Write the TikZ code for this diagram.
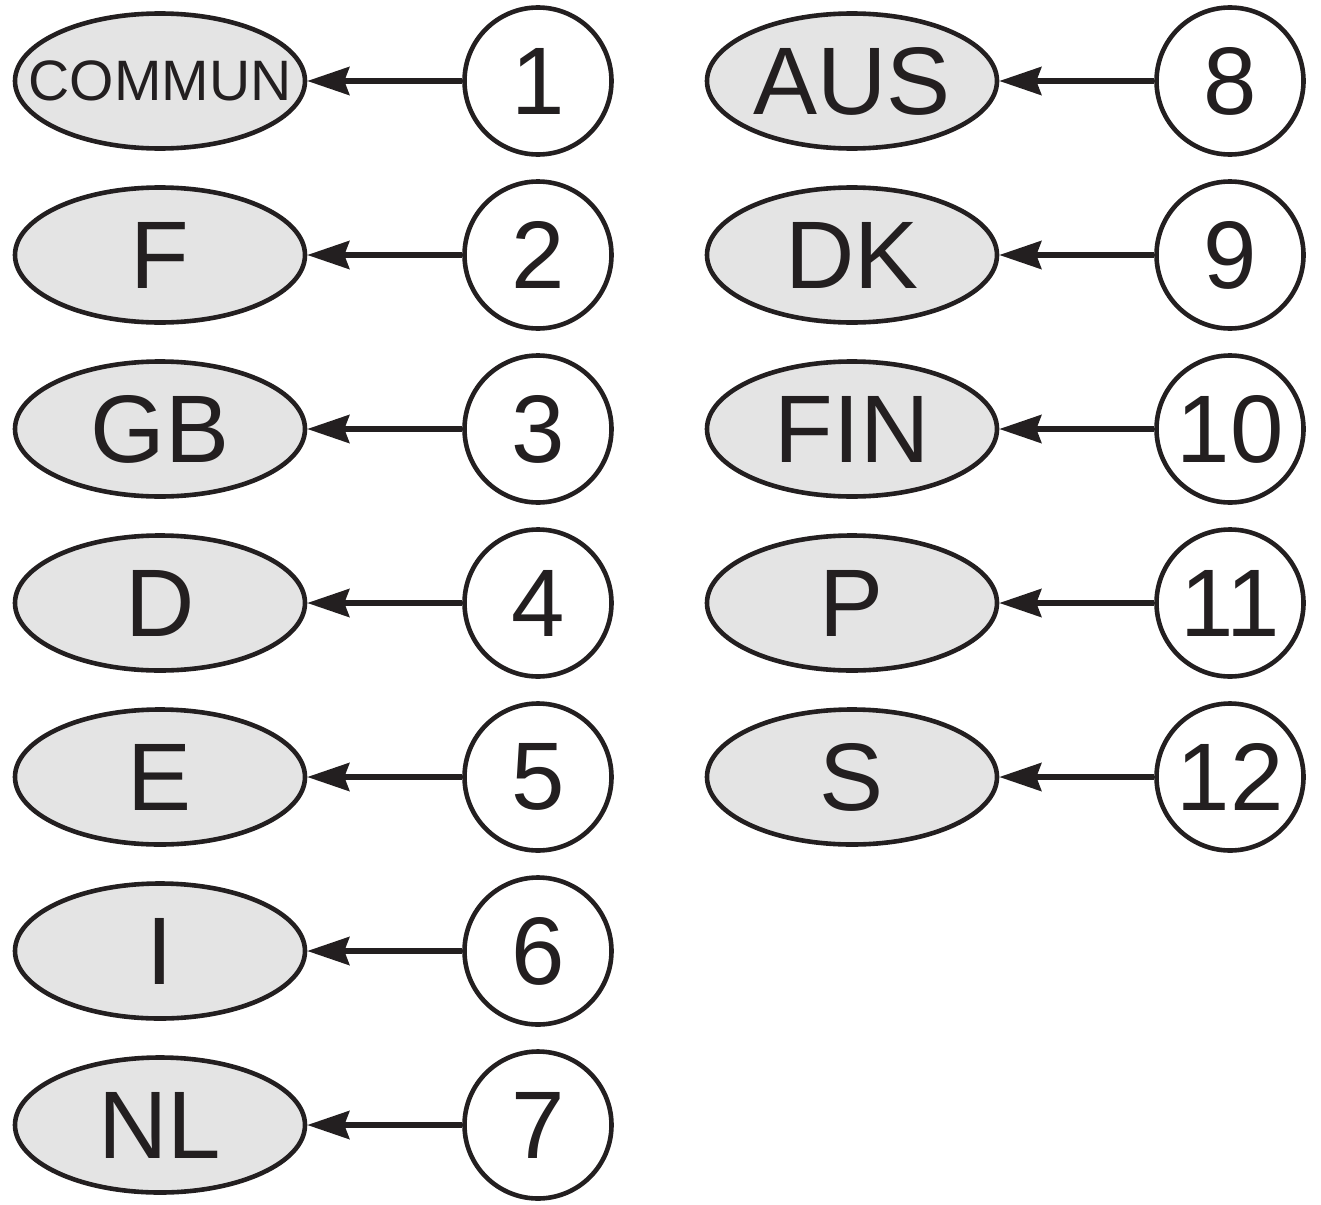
\documentclass[tikz,border=0pt]{standalone}
\usepackage{fontspec}
\setmainfont{Liberation Sans}
\usetikzlibrary{arrows.meta, shapes.geometric}
\definecolor{ink}{HTML}{231F20}
\definecolor{shade}{HTML}{E4E4E4}
\tikzset{
  country/.style={draw=ink, fill=shade, ellipse, line width=2.3pt, inner sep=0pt,
    minimum width=145pt, minimum height=67.5pt, font=\fontsize{48}{48}\selectfont, text=ink},
  codenum/.style={draw=ink, fill=white, circle, line width=2.3pt, inner sep=0pt,
    minimum size=73.5pt, font=\fontsize{48}{48}\selectfont, text=ink},
  pointer/.style={draw=ink, line width=2.7pt, -{Stealth[length=21pt, width=14pt, inset=2.5pt]}}
}
\begin{document}
\begin{tikzpicture}[x=0.5pt, y=-0.5pt]
        \useasboundingbox (0,0) rectangle (1321,1204);
        % Left column — country ellipses (centre x 160)
        \node[country, font=\fontsize{28.5}{28.5}\selectfont] (commun) at (160,81)
          {\makebox[0pt]{COMMUN}};
        \node[country] (f)  at (160,255)  {F};
        \node[country] (gb) at (160,429)  {GB};
        \node[country] (d)  at (160,603)  {D};
        \node[country] (e)  at (160,777)  {E};
        \node[country] (i)  at (160,951)  {I};
        \node[country] (nl) at (160,1125) {NL};
        % Left column — numbered circles (centre x 538)
        \node[codenum] (n1) at (538,81)   {1};
        \node[codenum] (n2) at (538,255)  {2};
        \node[codenum] (n3) at (538,429)  {3};
        \node[codenum] (n4) at (538,603)  {4};
        \node[codenum] (n5) at (538,777)  {5};
        \node[codenum] (n6) at (538,951)  {6};
        \node[codenum] (n7) at (538,1125) {7};
        % Right column — country ellipses (centre x 852)
        \node[country] (aus) at (852,81)  {AUS};
        \node[country] (dk)  at (852,255) {DK};
        \node[country] (fin) at (852,429) {FIN};
        \node[country] (p)   at (852,603) {P};
        \node[country] (s)   at (852,777) {S};
        % Right column — numbered circles (centre x 1230)
        \node[codenum] (n8)  at (1230,81)  {8};
        \node[codenum] (n9)  at (1230,255) {9};
        \node[codenum] (n10) at (1230,429) {10};
        \node[codenum] (n11) at (1230,603) {11};
        \node[codenum] (n12) at (1230,777) {12};
        % Arrows from number to country
        \draw[pointer] (n1) -- (commun);
        \draw[pointer] (n2) -- (f);
        \draw[pointer] (n3) -- (gb);
        \draw[pointer] (n4) -- (d);
        \draw[pointer] (n5) -- (e);
        \draw[pointer] (n6) -- (i);
        \draw[pointer] (n7) -- (nl);
        \draw[pointer] (n8) -- (aus);
        \draw[pointer] (n9) -- (dk);
        \draw[pointer] (n10) -- (fin);
        \draw[pointer] (n11) -- (p);
        \draw[pointer] (n12) -- (s);
      \end{tikzpicture}
\end{document}
